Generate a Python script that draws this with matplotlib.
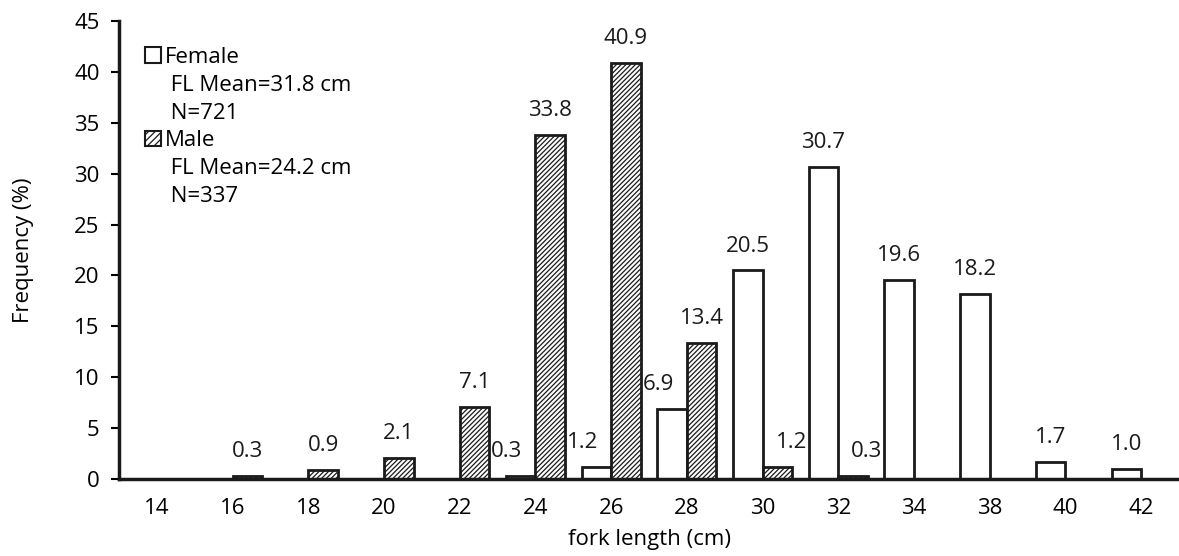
import matplotlib
matplotlib.use('Agg')
import matplotlib.pyplot as plt
from matplotlib.patches import Patch
import numpy as np

plt.rcParams['font.family'] = ['Open Sans', 'DejaVu Sans']
plt.rcParams['hatch.linewidth'] = 0.9

# datos
longitudes = ['14', '16', '18', '20', '22', '24', '26', '28', '30', '32', '34', '38', '40', '42']
hembras = [0, 0, 0, 0, 0, 0.3, 1.2, 6.9, 20.5, 30.7, 19.6, 18.2, 1.7, 1.0]
machos = [0, 0.3, 0.9, 2.1, 7.1, 33.8, 40.9, 13.4, 1.2, 0.3, 0, 0, 0, 0]

leyenda_hembras = ['Female', 'FL Mean=31.8 cm', 'N=721']
leyenda_machos = ['Male', 'FL Mean=24.2 cm', 'N=337']

fs = 16
ancho = 0.39
x = np.arange(len(longitudes))

fig = plt.figure(figsize=(11.79, 5.56), dpi=100)
ax = fig.add_axes([0.101, 0.1385, 0.899, 0.8235])

b_h = ax.bar(x - ancho/2, hembras, ancho, color='white', edgecolor='#1a1a1a', linewidth=2)
b_m = ax.bar(x + ancho/2, machos, ancho, color='white', edgecolor='#1a1a1a', linewidth=2,
             hatch='///////')

# etiquetas de valor; se corren a un lado si la barra vecina es mas alta
for i in range(len(x)):
    for valor, otro, xc, lado in [(hembras[i], machos[i], x[i] - ancho/2, -1),
                                  (machos[i], hembras[i], x[i] + ancho/2, 1)]:
        if valor <= 0:
            continue
        dx = 0
        if otro > valor + 2:
            dx = lado * 10
        ax.annotate(f'{valor:.1f}', (xc, valor), xytext=(dx, 10), textcoords='offset points',
                    ha='center', va='bottom', fontsize=fs, color='#1a1a1a')

ax.set_xlim(-0.5, len(x) - 0.5)
ax.set_ylim(0, 45)
ax.set_yticks(range(0, 46, 5))
ax.set_xticks(x)
ax.set_xticklabels(longitudes)
ax.tick_params(axis='x', length=0, pad=14, labelsize=fs)
ax.tick_params(axis='y', length=6, width=1.5, direction='out', labelsize=fs, pad=8)
for lado in ['top', 'right']:
    ax.spines[lado].set_visible(False)
ax.spines['left'].set_linewidth(2.5)
ax.spines['bottom'].set_linewidth(2.5)
ax.spines['left'].set_color('#1a1a1a')
ax.spines['bottom'].set_color('#1a1a1a')

ax.set_xlabel('fork length (cm)', fontsize=fs, labelpad=7)
ax.set_ylabel('Frequency (%)', fontsize=fs, labelpad=29)

vacio = Patch(facecolor='none', edgecolor='none')
handles = [Patch(facecolor='white', edgecolor='#1a1a1a', linewidth=1.5), vacio, vacio,
           Patch(facecolor='white', edgecolor='#1a1a1a', linewidth=1.5, hatch='/////'), vacio, vacio]
labels = [leyenda_hembras[0], ' ' + leyenda_hembras[1], ' ' + leyenda_hembras[2],
          leyenda_machos[0], ' ' + leyenda_machos[1], ' ' + leyenda_machos[2]]
ax.legend(handles, labels, loc='upper left', bbox_to_anchor=(0.01, 0.978), frameon=False,
          fontsize=fs, handlelength=0.7, handleheight=0.7, handletextpad=0.2,
          labelspacing=0.31, borderaxespad=0.3)

plt.savefig('out.png', dpi=100)
